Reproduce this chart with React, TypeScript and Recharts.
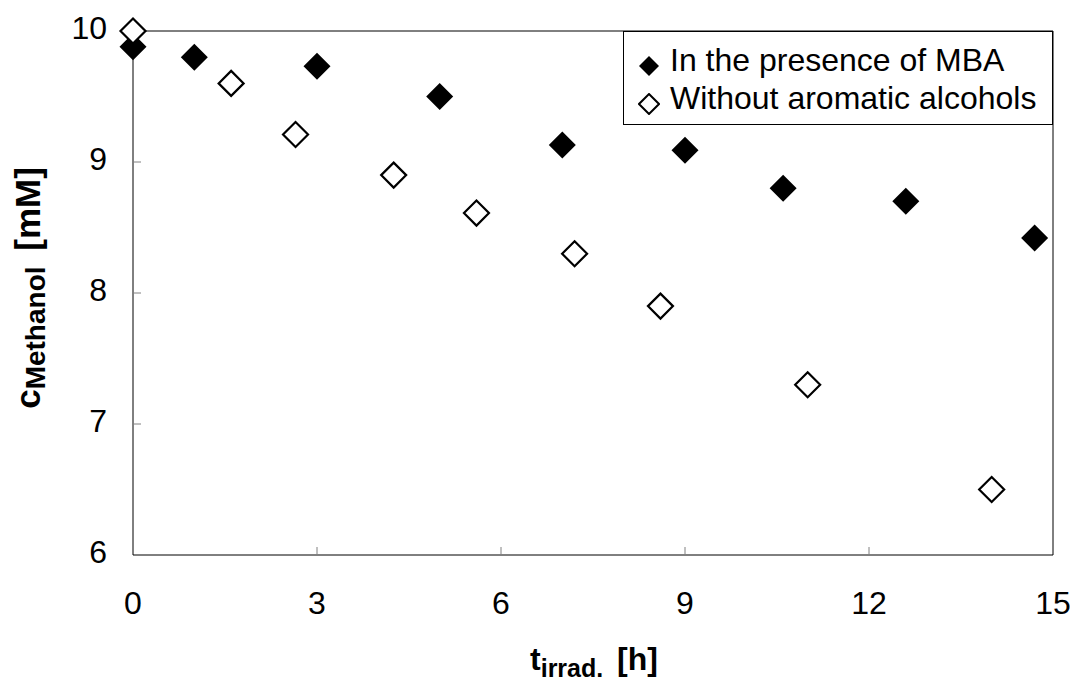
import { ScatterChart, Scatter, XAxis, YAxis, ReferenceLine, Legend, Label } from 'recharts';

// irradiation time [h] and methanol concentration [mM]
const mbaTime = [0, 1.0, 3.0, 5.0, 7.0, 9.0, 10.6, 12.6, 14.7];
const mbaConc = [9.88, 9.8, 9.73, 9.5, 9.13, 9.09, 8.8, 8.7, 8.42];
const plainTime = [0, 1.6, 2.65, 4.25, 5.6, 7.2, 8.6, 11.0, 14.0];
const plainConc = [10.0, 9.6, 9.21, 8.9, 8.61, 8.3, 7.9, 7.3, 6.5];

const xTicks = [0, 3, 6, 9, 12, 15];
const yTicks = [6, 7, 8, 9, 10];
const seriesNames = ['In the presence of MBA', 'Without aromatic alcohols'];

const FONT = '"Liberation Sans", Arial, sans-serif';

const mbaData = mbaTime.map((t, i) => ({ t, c: mbaConc[i] }));
const plainData = plainTime.map((t, i) => ({ t, c: plainConc[i] }));

function Diamond({ cx, cy, filled }: { cx: number; cy: number; filled: boolean }) {
  const r = filled ? 13.5 : 12.5;
  return (
    <path
      d={`M${cx},${cy - r}L${cx + r},${cy}L${cx},${cy + r}L${cx - r},${cy}Z`}
      fill={filled ? '#000' : '#fff'}
      stroke="#000"
      strokeWidth={filled ? 0 : 2.2}
    />
  );
}

function YTick({ x, y, payload }: any) {
  const v = payload.value;
  return (
    <g>
      {v > 6 && v < 10 && <line x1={x} x2={x + 8} y1={y} y2={y} stroke="#808080" />}
      <text x={x - 26} y={y} dy={8} textAnchor="end" fontSize={32} fontFamily={FONT} fill="#000">
        {v}
      </text>
    </g>
  );
}

function XTick({ x, y, payload }: any) {
  const v = payload.value;
  return (
    <g>
      {v > 0 && v < 15 && <line x1={x} x2={x} y1={y} y2={y - 8} stroke="#808080" />}
      <text x={x} y={y} dy={59} textAnchor="middle" fontSize={32} fontFamily={FONT} fill="#000">
        {v}
      </text>
    </g>
  );
}

function LegendBox() {
  return (
    <div
      style={{
        boxSizing: 'border-box',
        width: 430,
        height: 94,
        border: '1px solid #000',
        background: '#fff',
        paddingTop: 9,
        fontFamily: FONT,
        fontSize: 32,
        lineHeight: '38px',
        color: '#000',
        textAlign: 'left',
      }}
    >
      {seriesNames.map((name, i) => (
        <div key={name} style={{ display: 'flex', alignItems: 'center', height: 38 }}>
          <svg width={22} height={22} style={{ marginLeft: 14, marginRight: 10, position: 'relative', top: 6 }}>
            <path
              d="M11,1L21,11L11,21L1,11Z"
              fill={i === 0 ? '#000' : '#fff'}
              stroke="#000"
              strokeWidth={i === 0 ? 0 : 2}
            />
          </svg>
          <span>{name}</span>
        </div>
      ))}
    </div>
  );
}

export default function App() {
  return (
    <ScatterChart width={1062} height={678} margin={{ top: 23, right: 17, bottom: 0, left: 0 }}>
      <XAxis
        type="number"
        dataKey="t"
        domain={[0, 15]}
        ticks={xTicks}
        height={131}
        stroke="#000"
        tickSize={0}
        tickMargin={0}
        tick={<XTick />}
      >
        <Label
          content={() => (
            <text x={586} y={662} textAnchor="middle" fontFamily={FONT} fontWeight="bold" fontSize={32} fill="#000">
              <tspan>t</tspan>
              <tspan fontSize={25} dy={7}>irrad.</tspan>
              <tspan dy={-7} dx={5}> [h]</tspan>
            </text>
          )}
        />
      </XAxis>
      <YAxis
        type="number"
        dataKey="c"
        domain={[6, 10]}
        ticks={yTicks}
        width={125}
        stroke="#000"
        tickSize={0}
        tickMargin={0}
        tick={<YTick />}
      >
        <Label
          content={() => (
            <text
              x={32}
              y={280}
              transform="rotate(-90, 32, 280)"
              textAnchor="middle"
              fontFamily={FONT}
              fontWeight="bold"
              fontSize={35}
              fill="#000"
            >
              <tspan>c</tspan>
              <tspan fontSize={28} dy={5}>Methanol</tspan>
              <tspan dy={-5} dx={6}> [mM]</tspan>
            </text>
          )}
        />
      </YAxis>
      <ReferenceLine y={10} stroke="#000" />
      <ReferenceLine x={15} stroke="#000" />
      <Legend
        verticalAlign="middle"
        align="center"
        layout="vertical"
        wrapperStyle={{ position: 'absolute', top: 23, left: 615, width: 430, height: 94 }}
        content={() => <LegendBox />}
      />
      <Scatter
        name={seriesNames[0]}
        data={mbaData}
        isAnimationActive={false}
        shape={(p: any) => <Diamond cx={p.cx} cy={p.cy} filled />}
      />
      <Scatter
        name={seriesNames[1]}
        data={plainData}
        isAnimationActive={false}
        shape={(p: any) => <Diamond cx={p.cx} cy={p.cy} filled={false} />}
      />
    </ScatterChart>
  );
}
